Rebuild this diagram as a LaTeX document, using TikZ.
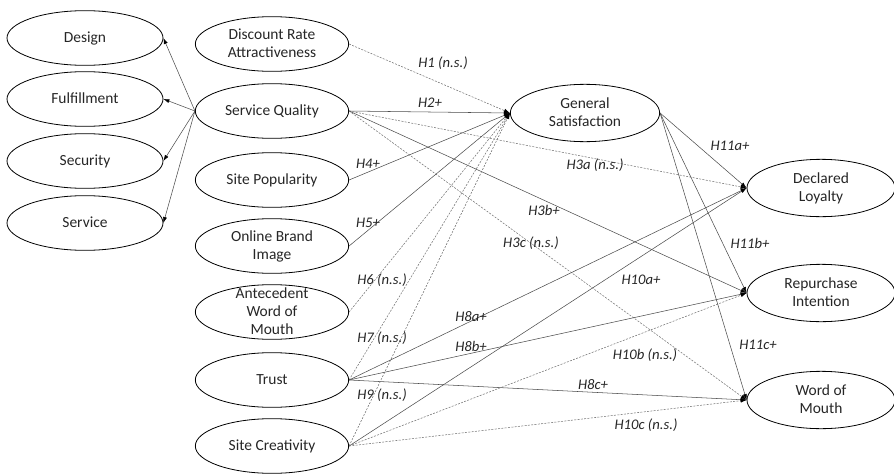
\documentclass[tikz,border=0pt]{standalone}
\usepackage{fontspec}
\setmainfont{Carlito}
\usetikzlibrary{shapes.geometric,arrows.meta}
\newcommand{\ovaltext}[1]{\raisebox{-3.8pt}[0pt][0pt]{\begin{tabular}{@{}c@{}}#1\end{tabular}}}

\begin{document}
\begin{tikzpicture}[x=0.75pt,y=-0.75pt,
  oval/.style={ellipse,draw,line width=.6pt,inner sep=0pt,minimum width=115pt,minimum height=41pt,text=black!85,font=\fontsize{11.6}{13.5}\selectfont},
  sig/.style={-{Latex[length=4.5pt,width=3pt,color=black]},draw=black!70,line width=.4pt},
  ns/.style={sig,draw=black!55,dash pattern=on 1.5pt off 1pt},
  hyp/.style={font=\fontsize{11}{13}\selectfont\itshape,text=black!85,inner sep=1pt}]
\useasboundingbox (0,0) rectangle (894,475);
% dimensions of service quality
\node [oval,minimum width=117pt] (de) at (85,38) {\ovaltext{Design}};
\node [oval,minimum width=117pt] (fu) at (85,99) {\ovaltext{Fulfillment}};
\node [oval,minimum width=117pt] (se) at (85,161) {\ovaltext{Security}};
\node [oval,minimum width=117pt] (sv) at (85,223) {\ovaltext{Service}};
% antecedents
\node [oval] (dr) at (272,44) {\ovaltext{Discount Rate\\Attractiveness}};
\node [oval] (sq) at (272,111) {\ovaltext{Service Quality}};
\node [oval] (sp) at (272,180) {\ovaltext{Site Popularity}};
\node [oval] (ob) at (272,246) {\ovaltext{Online Brand\\Image}};
\node [oval] (aw) at (272,312) {\ovaltext{Antecedent\\Word of\\Mouth}};
\node [oval] (tr) at (272,380) {\ovaltext{Trust}};
\node [oval] (sc) at (272,446) {\ovaltext{Site Creativity}};
% satisfaction and outcomes
\node [oval,minimum width=112pt,minimum height=43pt] (gs) at (585,113) {\ovaltext{General\\Satisfaction}};
\node [oval,minimum width=111pt,minimum height=43pt] (dl) at (821,188) {\ovaltext{Declared\\Loyalty}};
\node [oval,minimum width=111pt,minimum height=43pt] (ri) at (821,293) {\ovaltext{Repurchase\\Intention}};
\node [oval,minimum width=111pt,minimum height=43pt] (wm) at (821,400) {\ovaltext{Word of\\Mouth}};

\draw [sig] (sq.west) -- (de.east);
\draw [sig] (sq.west) -- (fu.east);
\draw [sig] (sq.west) -- (se.east);
\draw [sig] (sq.west) -- (sv.east);

\draw [ns] (dr.east) -- (gs.west);
\draw [sig] (sq.east) -- (gs.west);
\draw [ns] (sq.east) -- (dl.west);
\draw [sig] (sq.east) -- (ri.west);
\draw [ns] (sq.east) -- (wm.west);
\draw [sig] (sp.east) -- (gs.west);
\draw [sig] (ob.east) -- (gs.west);
\draw [ns] (aw.east) -- (gs.west);
\draw [ns] (tr.east) -- (gs.west);
\draw [sig] (tr.east) -- (dl.west);
\draw [sig] (tr.east) -- (ri.west);
\draw [sig] (tr.east) -- (wm.west);
\draw [ns] (sc.east) -- (gs.west);
\draw [sig] (sc.east) -- (dl.west);
\draw [ns] (sc.east) -- (ri.west);
\draw [ns] (sc.east) -- (wm.west);
\draw [sig] (gs.east) -- (dl.west);
\draw [sig] (gs.east) -- (ri.west);
\draw [sig] (gs.east) -- (wm.west);

% hypotheses
\node [hyp] (h1) at (443,63) {H1 (n.s.)};
\node [hyp] (h2) at (430,103) {H2+};
\node [hyp] (h3a) at (595,165) {H3a (n.s.)};
\node [hyp] (h3b) at (544,210) {H3b+};
\node [hyp] (h3c) at (531,243) {H3c (n.s.)};
\node [hyp] (h4) at (368,164) {H4+};
\node [hyp] (h5) at (368,223) {H5+};
\node [hyp] (h6) at (382,280) {H6 (n.s.)};
\node [hyp] (h7) at (382,338) {H7 (n.s.)};
\node [hyp] (h8a) at (471,317) {H8a+};
\node [hyp] (h8b) at (471,346) {H8b+};
\node [hyp] (h8c) at (593,385) {H8c+};
\node [hyp] (h9) at (382,395) {H9 (n.s.)};
\node [hyp] (h10a) at (641,280) {H10a+};
\node [hyp] (h10b) at (645,355) {H10b (n.s.)};
\node [hyp] (h10c) at (646,425) {H10c (n.s.)};
\node [hyp] (h11a) at (730,146) {H11a+};
\node [hyp] (h11b) at (750,243) {H11b+};
\node [hyp] (h11c) at (758,345) {H11c+};
\end{tikzpicture}
\end{document}
